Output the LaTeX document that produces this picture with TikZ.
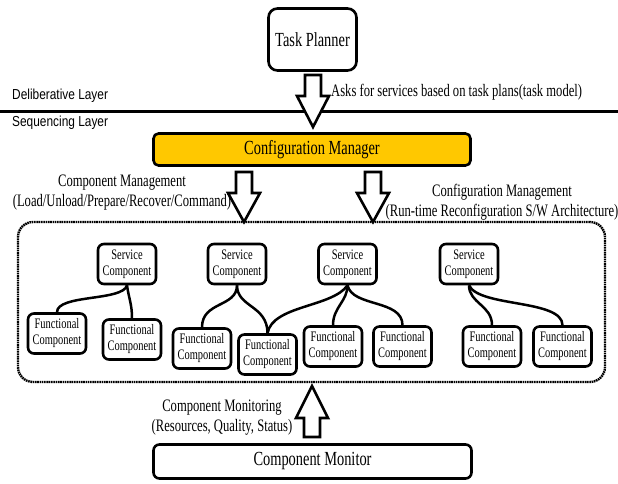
\documentclass[tikz,border=0pt]{standalone}
\usepackage{fontspec}
\setmainfont{Liberation Serif}[FakeStretch=0.72]
\newfontfamily\layerfont{Liberation Sans}[FakeStretch=0.82]
\definecolor{cmyellow}{RGB}{255,200,0}
\newcommand\BlkDown[4]{\draw[blockarr] ({#1-8},#2) -- ({#1+8},#2) -- ({#1+8},#3) -- ({#1+16},#3) -- (#1,#4) -- ({#1-16},#3) -- ({#1-8},#3) -- cycle;}
\begin{document}
\begin{tikzpicture}[x=1pt,y=-1pt,
  box/.style={draw, line width=2.6pt, rounded corners=6pt, inner sep=0pt, align=center},
  sc/.style={box, minimum width=58pt, minimum height=40pt, font=\fontsize{14.5}{16}\selectfont},
  big/.style={box, font=\fontsize{20}{22}\selectfont},
  lbl/.style={inner sep=0pt, align=center, font=\fontsize{17.5}{20}\selectfont},
  layer/.style={inner sep=0pt, anchor=west, font=\layerfont\fontsize{14.5}{16}\selectfont},
  blockarr/.style={draw, line width=2.6pt, fill=white, line join=miter},
  conn/.style={line width=2.5pt},
  group/.style={draw, line width=2.4pt, dash pattern=on 1.6pt off 0.7pt, rounded corners=15pt, inner sep=0pt}]
\useasboundingbox (0,0) rectangle (618,484);
\fill[white] (0,0) rectangle (618,484);

% layers
\coordinate (ll) at (0,112);
\coordinate (lr) at (618,112);
\draw[line width=3pt] (ll) -- (lr);
\node[layer] (delib) at (12,96) {Deliberative Layer};
\node[layer] (seq) at (12,123) {Sequencing Layer};

% top boxes
\node[big, minimum width=88pt, minimum height=62pt, rounded corners=9pt] (tp) at (312.5,39.5) {Task Planner};
\node[big, minimum width=317pt, minimum height=32pt, fill=cmyellow, rounded corners=5pt] (cm) at (312,149.5) {Configuration Manager};
\node[big, minimum width=318pt, minimum height=34pt, rounded corners=6pt] (mon) at (312.5,461.5) {Component Monitor};

% group
\node[group, minimum width=587pt, minimum height=160pt] (grp) at (311.5,302) {};

% arrows
\BlkDown{313}{75}{96}{127}
\node[lbl, anchor=west] (asks) at (331,92) {Asks for services based on task plans(task model)};
\BlkDown{244}{172}{193}{222}
\BlkDown{373}{172}{193}{222}
\draw[blockarr] (304,437) -- (320,437) -- (320,418) -- (328,418) -- (312,386) -- (296,418) -- (304,418) -- cycle;

\node[lbl] (cmgmt) at (122,193) {Component Management\\(Load/Unload/Prepare/Recover/Command)};
\node[lbl] (cfgmgmt) at (502,202) {Configuration Management\\(Run-time Reconfiguration S/W Architecture)};
\node[lbl] (monlbl) at (222,417.5) {Component Monitoring\\(Resources, Quality, Status)};

% service components
\node[sc] (sc1) at (127,264) {Service\\Component};
\node[sc] (sc2) at (237,264) {Service\\Component};
\node[sc] (sc3) at (347.5,264) {Service\\Component};
\node[sc] (sc4) at (469,264) {Service\\Component};

% functional components
\node[sc] (fc1) at (57,333.5) {Functional\\Component};
\node[sc] (fc2) at (132,339.5) {Functional\\Component};
\node[sc] (fc3) at (202,348.5) {Functional\\Component};
\node[sc] (fc4) at (267.5,354.5) {Functional\\Component};
\node[sc] (fc5) at (333,346.5) {Functional\\Component};
\node[sc] (fc6) at (402.5,346.5) {Functional\\Component};
\node[sc] (fc7) at (492,346.5) {Functional\\Component};
\node[sc] (fc8) at (562.5,346.5) {Functional\\Component};

% connectors
\draw[conn] (sc1.south) .. controls +(-4,16) and +(0,-18) .. (fc1.north);
\draw[conn] (sc1.south) .. controls +(2,14) and +(0,-14) .. (fc2.north);
\draw[conn] (sc2.south) .. controls +(0,22) and +(0,-26) .. (fc3.north);
\draw[conn] (sc2.south) .. controls +(0,22) and +(0,-28) .. (fc4.north);
\draw[conn] (sc3.south) .. controls +(-15,22) and +(5,-28) .. (fc4.north);
\draw[conn] (sc3.south) .. controls +(0,16) and +(0,-18) .. (fc5.north);
\draw[conn] (sc3.south) .. controls +(5,22) and +(0,-26) .. (fc6.north);
\draw[conn] (sc4.south) .. controls +(0,18) and +(0,-20) .. (fc7.north);
\draw[conn] (sc4.south) .. controls +(10,22) and +(0,-26) .. (fc8.north);
\end{tikzpicture}
\end{document}
